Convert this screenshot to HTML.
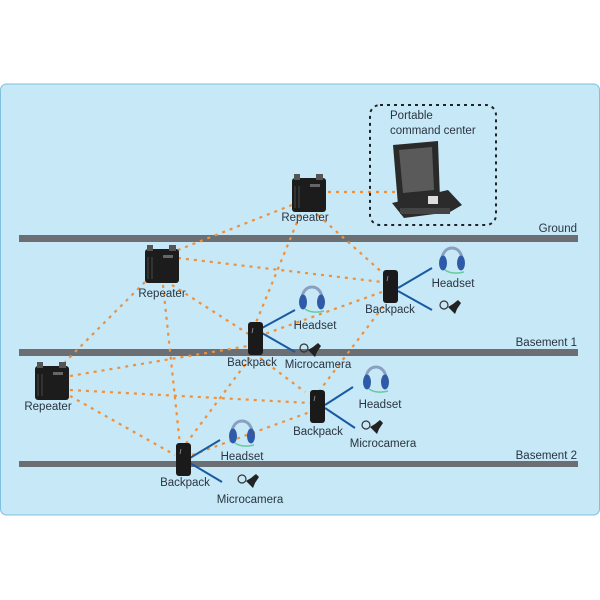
<!DOCTYPE html>
<html><head><meta charset="utf-8"><style>
html,body{margin:0;padding:0;background:#fff;width:600px;height:600px;overflow:hidden}
svg{display:block}
text{font-family:"Liberation Sans",sans-serif;font-size:11.5px;fill:#2a3440}
</style></head><body>
<svg width="600" height="600" viewBox="0 0 600 600">
<defs>
<g id="rep"><rect x="0" y="4" width="34" height="34" rx="3" fill="#1c1c1c"/><rect x="2" y="0" width="6" height="6" fill="#555"/><rect x="24" y="0" width="7" height="6" fill="#555"/>
<g stroke="#3a3a3a" stroke-width="1.5"><line x1="3" y1="12" x2="3" y2="34"/><line x1="7" y1="12" x2="7" y2="34"/></g><rect x="18" y="10" width="10" height="3" fill="#666"/></g>
<g id="bp"><rect x="0" y="0" width="15" height="33" rx="3" fill="#1a1a1a"/><line x1="5" y1="6" x2="4" y2="11" stroke="#999" stroke-width="0.8"/></g>
<g id="hs"><path d="M2,20 C0,0 24,0 22,20" fill="none" stroke="#8aa0c0" stroke-width="3"/><ellipse cx="3" cy="20" rx="4" ry="7.5" fill="#2e5aa8"/><ellipse cx="21" cy="20" rx="4" ry="7.5" fill="#2e5aa8"/><path d="M5,27 Q12,32 24,29" fill="none" stroke="#6c9" stroke-width="1.5"/></g>
<g id="mc"><circle cx="4" cy="5" r="4" fill="none" stroke="#333" stroke-width="1.2"/><path d="M8,7 L13,4 L18,0 L21,3 L17,9 L15,14 L12,11 Z" fill="#222"/></g>
</defs>
<rect x="0.5" y="84" width="599" height="431" rx="6" fill="#c6e8f7" stroke="#7fbfe0"/>
<rect x="19" y="235" width="559" height="7" fill="#6b6e72"/>
<rect x="19" y="349" width="559" height="7" fill="#6b6e72"/>
<rect x="19" y="461" width="559" height="6" fill="#6b6e72"/>
<text x="577" y="232" text-anchor="end">Ground</text>
<text x="577" y="346" text-anchor="end">Basement 1</text>
<text x="577" y="459" text-anchor="end">Basement 2</text>
<g stroke="#f0903a" stroke-width="2.2" stroke-dasharray="3,5" fill="none">
<line x1="328" y1="192" x2="395" y2="192"/>
<line x1="292" y1="205" x2="178" y2="250"/>
<line x1="300" y1="215" x2="255" y2="325"/>
<line x1="318" y1="215" x2="385" y2="275"/>
<line x1="178" y1="258" x2="382" y2="282"/>
<line x1="172" y1="285" x2="250" y2="335"/>
<line x1="163" y1="285" x2="180" y2="445"/>
<line x1="145" y1="282" x2="65" y2="362"/>
<line x1="382" y1="292" x2="262" y2="335"/>
<line x1="388" y1="300" x2="320" y2="390"/>
<line x1="70" y1="376" x2="248" y2="346"/>
<line x1="70" y1="390" x2="310" y2="403"/>
<line x1="70" y1="396" x2="175" y2="455"/>
<line x1="260" y1="358" x2="305" y2="392"/>
<line x1="250" y1="358" x2="185" y2="445"/>
<line x1="192" y1="455" x2="310" y2="412"/>
</g>
<rect x="370" y="105" width="126" height="120" rx="10" fill="none" stroke="#222" stroke-width="2" stroke-dasharray="3,4"/>
<text x="390" y="119">Portable</text>
<text x="390" y="134">command center</text>
<g><path d="M393,145 L438,141 L440,200 L398,205 Z" fill="#2a2a2a"/><path d="M399,150 L432,147 L434,190 L403,193 Z" fill="#5a5a5a"/>
<path d="M392,203 L448,190 L462,205 L450,212 L404,218 Z" fill="#2b2b2b"/><rect x="428" y="196" width="10" height="8" fill="#ddd"/><rect x="400" y="208" width="50" height="6" fill="#444"/></g>
<use href="#rep" x="292" y="174"/><text x="305" y="221" text-anchor="middle">Repeater</text>
<use href="#rep" x="145" y="245"/><text x="162" y="297" text-anchor="middle">Repeater</text>
<use href="#rep" x="35" y="362"/><text x="48" y="410" text-anchor="middle">Repeater</text>
<g stroke="#1a5aa0" stroke-width="2">
<line x1="398" y1="288" x2="432" y2="268"/><line x1="398" y1="291" x2="432" y2="310"/>
<line x1="262" y1="328" x2="295" y2="310"/><line x1="262" y1="333" x2="295" y2="352"/>
<line x1="325" y1="405" x2="353" y2="387"/><line x1="325" y1="408" x2="355" y2="428"/>
<line x1="190" y1="458" x2="220" y2="440"/><line x1="190" y1="463" x2="222" y2="482"/>
</g>
<use href="#bp" x="383" y="270"/><text x="390" y="313" text-anchor="middle">Backpack</text>
<use href="#hs" x="440" y="243"/><text x="453" y="287" text-anchor="middle">Headset</text>
<use href="#mc" x="440" y="300"/>
<use href="#bp" x="248" y="322"/><text x="252" y="366" text-anchor="middle">Backpack</text>
<use href="#hs" x="300" y="282"/><text x="315" y="329" text-anchor="middle">Headset</text>
<use href="#mc" x="300" y="343"/><text x="318" y="368" text-anchor="middle">Microcamera</text>
<use href="#bp" x="310" y="390"/><text x="318" y="435" text-anchor="middle">Backpack</text>
<use href="#hs" x="364" y="362"/><text x="380" y="408" text-anchor="middle">Headset</text>
<use href="#mc" x="362" y="420"/><text x="383" y="447" text-anchor="middle">Microcamera</text>
<use href="#bp" x="176" y="443"/><text x="185" y="486" text-anchor="middle">Backpack</text>
<use href="#hs" x="230" y="416"/><text x="242" y="460" text-anchor="middle">Headset</text>
<use href="#mc" x="238" y="474"/><text x="250" y="503" text-anchor="middle">Microcamera</text>
</svg>
</body></html>
